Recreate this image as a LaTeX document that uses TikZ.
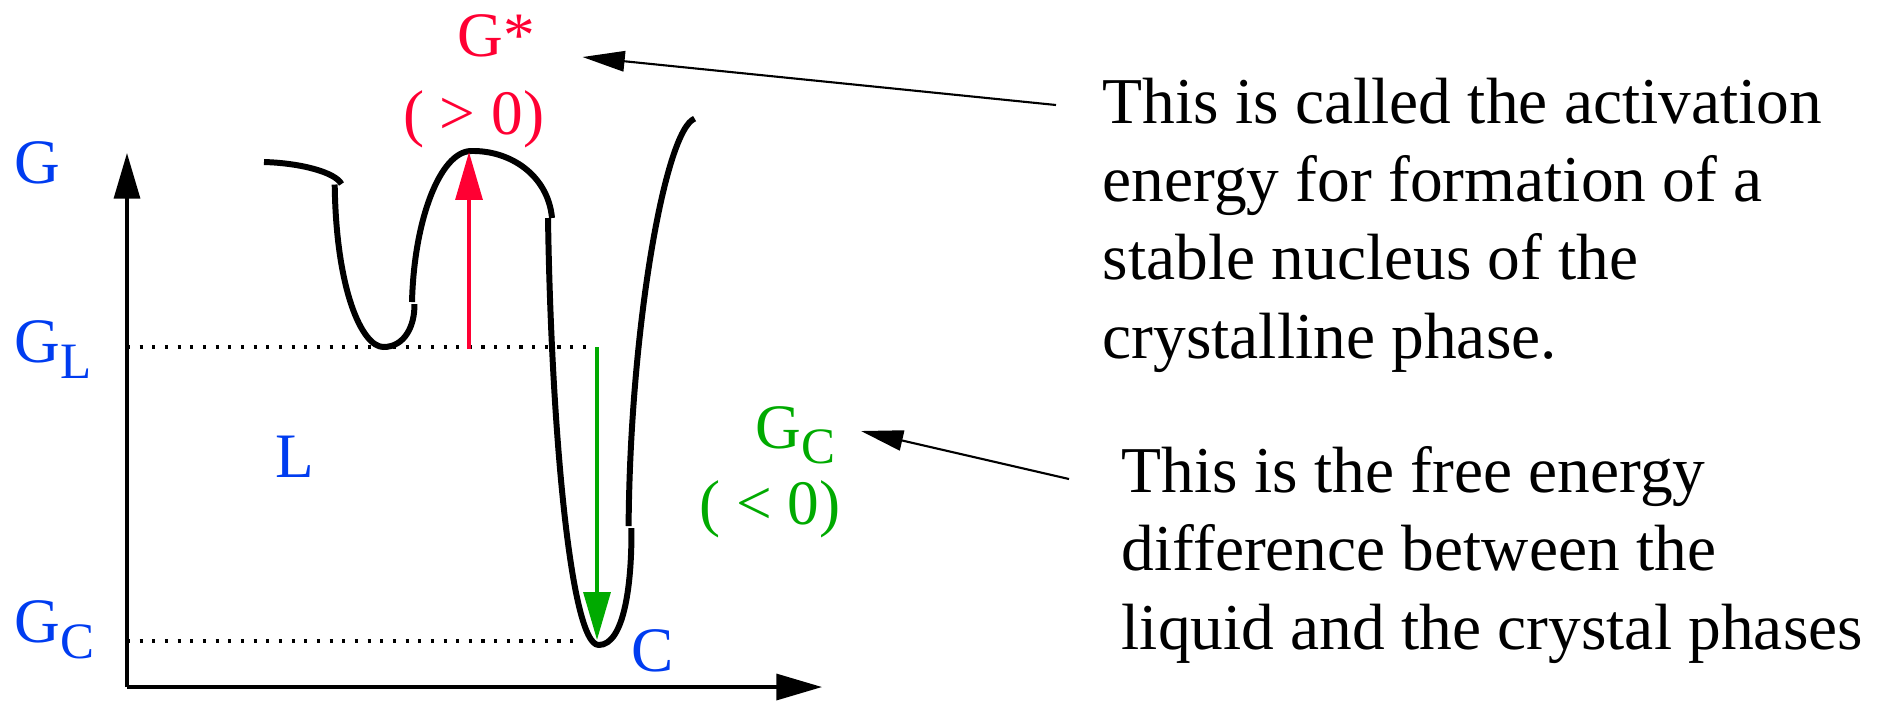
\documentclass[tikz,border=0pt]{standalone}
\usepackage{fontspec}
\setmainfont{Liberation Serif}
\usetikzlibrary{arrows.meta}

\definecolor{lblue}{RGB}{0,60,240}
\definecolor{lred}{RGB}{255,0,51}
\definecolor{lgreen}{RGB}{0,170,0}

\newcommand\lowsub[1]{\raisebox{-4.5pt}{\fontsize{14.5}{16}\selectfont #1}}

\tikzset{
  axis/.style={line width=0.95pt, -{Triangle[length=13pt, width=7.4pt]}},
  pointer/.style={line width=0.6pt, -{Triangle[length=12pt, width=5.8pt]}},
  level/.style={line width=0.9pt, dash pattern=on 0.9pt off 2.7pt},
  energy/.style={line width=1.7pt, line join=round},
  lbl/.style={inner sep=0pt, anchor=base west, text=lblue},
  note/.style={inner sep=0pt, anchor=base west, align=left, font=\fontsize{18.6}{22.2}\selectfont},
}

\begin{document}
\begin{tikzpicture}[x=0.01cm, y=-0.01cm, font=\fontsize{18}{22}\selectfont]
  \useasboundingbox (0,0) rectangle (1877,702);

  % axes
  \coordinate (origin) at (127,687);
  \draw[axis] (origin) -- (127,153);
  \draw[axis] (origin) -- (822,687);

  % axis labels
  \node[lbl] (g)  at (14,183.5) {G};
  \node[lbl] (gl) at (14,362.5) {G\lowsub{L}};
  \node[lbl] (gc) at (14,642.5) {G\lowsub{C}};
  \node[lbl] (liq) at (275,477) {L};
  \node[lbl] (cry) at (631,671.5) {C};

  % levels
  \draw[level] (127,347) -- (594,347);
  \draw[level] (127,641) -- (574,641);

  % free energy curve, drawn in pieces
  \draw[energy] (264,162) .. controls (300,163) and (335,172) .. (341.5,184);
  \draw[energy] (334.7,184.5) .. controls (336,290) and (362,347) .. (383.5,347)
    .. controls (405,347) and (415,325) .. (414.4,304);
  \draw[energy] (412,302) .. controls (414,220) and (440,152) .. (470.7,151)
    .. controls (510,150) and (548,175) .. (552,218);
  \draw[energy] (548,218) .. controls (551,420) and (570,645) .. (598.7,645)
    .. controls (625,645) and (632,580) .. (631.4,528);
  \draw[energy] (628.6,526) .. controls (630,330) and (665,130) .. (694.6,118.6);

  % barrier and drop
  \draw[lred, line width=1.1pt, -{Triangle[length=13.6pt, width=7.6pt]}] (469,349) -- (469,152);
  \draw[lgreen, line width=1.1pt, -{Triangle[length=13.6pt, width=7.6pt]}] (597,347) -- (597,640);

  \node[inner sep=0pt, anchor=base, text=lred] (gstar) at (496.5,56) {G*};
  \node[inner sep=0pt, anchor=base, text=lred] (gpos) at (473.6,134) {( > 0)};
  \node[inner sep=0pt, anchor=base west, text=lgreen] (gcry) at (755,448) {G\lowsub{C}};
  \node[inner sep=0pt, anchor=base, text=lgreen] (gneg) at (770,524) {( < 0)};

  % notes
  \node[note] (act) at (1102,358)
    {This is called the activation\\energy for formation of a\\stable nucleus of the\\crystalline phase.};
  \node[note] (diff) at (1121,649)
    {This is the free energy\\difference between the\\liquid and the crystal phases};

  \draw[pointer] ([shift={(-46,-253)}]act.base west) -- ([shift={(86,1)}]gstar.base);
  \draw[pointer] ([shift={(-52,-170)}]diff.base west) -- ([shift={(106,-17)}]gcry.base west);
\end{tikzpicture}
\end{document}
